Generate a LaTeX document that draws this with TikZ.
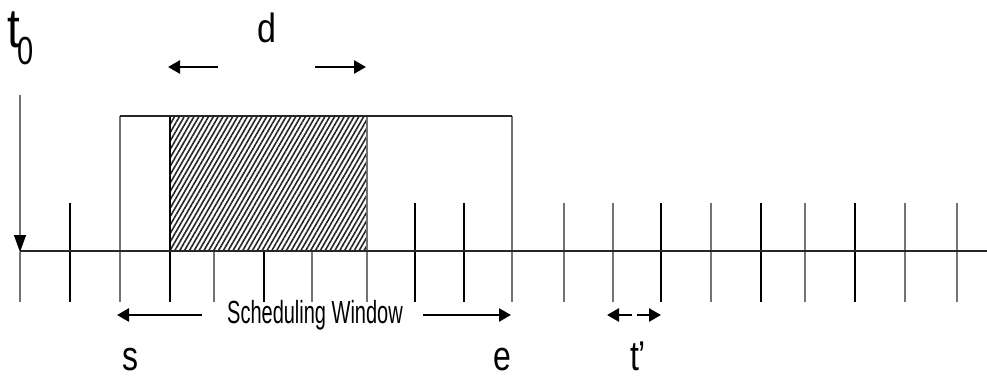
\documentclass[tikz,border=0pt]{standalone}
\usepackage{fontspec}
\setmainfont{Liberation Sans}
\usetikzlibrary{arrows.meta,patterns.meta}
\begin{document}
\begin{tikzpicture}[x=1pt,y=-1pt,
  axisline/.style={line width=2.3pt,black!85},
  darktick/.style={line width=1.8pt,black},
  lighttick/.style={line width=1.3pt,black!55},
  arr/.style={line width=2.6pt,-{Triangle[length=12pt,width=13pt]}},
  lbl/.style={inner sep=0pt,anchor=base,text depth=0pt}]
\useasboundingbox (0,0) rectangle (987,377);
% ticks
\foreach \x/\st/\top in {70/darktick/203, 120/lighttick/116, 170/darktick/116, 214/lighttick/251, 264/darktick/251, 312/lighttick/251, 367/lighttick/116, 415/darktick/203, 464/darktick/203, 512/lighttick/116, 564/lighttick/203, 613/lighttick/203, 661/darktick/203, 711/lighttick/203, 761/darktick/203, 805/lighttick/203, 855/darktick/203, 905/lighttick/203, 957/lighttick/203}
  \draw[\st] (\x,\top) -- (\x,302);
% hatched task box
\fill[white] (170,116) rectangle (367,251);
\fill[pattern={Lines[angle=60,distance=4.2pt,line width=1.6pt]},pattern color=black!85] (170,116) rectangle (367,251);
\draw[darktick] (170,116) -- (170,251);
\draw[lighttick] (367,116) -- (367,251);
% scheduling window top
\draw[line width=2pt,black!85] (120,116) -- (512,116);
% axis
\draw[axisline] (20,251) -- (987,251);
% t0 arrow
\coordinate (t0top) at (20,95);
\coordinate (t0end) at (20,252);
\coordinate (t0low) at (20,302);
\draw[lighttick,-{Triangle[length=17pt,width=12pt,color=black]}] (t0top) -- (t0end);
\draw[lighttick] (t0end) -- (t0low);
% labels
\node[lbl] (tlab) at (14,48) {\scalebox{1}[1.2]{\fontsize{46}{46}\selectfont t}};
\node[lbl] (tsub) at (26,65) {\scalebox{1}[1.35]{\fontsize{29}{29}\selectfont 0}};
\node[lbl] (d) at (267,43) {\scalebox{1}[1.2]{\fontsize{34}{34}\selectfont d}};
\node[lbl] (sw) at (315,323) {\scalebox{1}[1.6]{\fontsize{20}{20}\selectfont Scheduling Window}};
\node[lbl] (s) at (130,370) {\scalebox{1}[1.3]{\fontsize{32}{32}\selectfont s}};
\node[lbl] (e) at (502,370) {\scalebox{1}[1.3]{\fontsize{32}{32}\selectfont e}};
\node[lbl] (tp) at (638,370) {\scalebox{1}[1.3]{\fontsize{32}{32}\selectfont t’}};
% d arrows
\coordinate (dl1) at (218,67); \coordinate (dl2) at (168,67);
\coordinate (dr1) at (315,67); \coordinate (dr2) at (366,67);
\draw[arr] (dl1) -- (dl2);
\draw[arr] (dr1) -- (dr2);
% scheduling window arrows
\coordinate (sl1) at (202,315); \coordinate (sl2) at (117,315);
\coordinate (sr1) at (423,315); \coordinate (sr2) at (511,315);
\draw[arr] (sl1) -- (sl2);
\draw[arr] (sr1) -- (sr2);
% t' arrows
\coordinate (tl1) at (632,315); \coordinate (tl2) at (607,315);
\coordinate (tr1) at (637,315); \coordinate (tr2) at (661,315);
\draw[arr] (tl1) -- (tl2);
\draw[arr] (tr1) -- (tr2);
\end{tikzpicture}
\end{document}
